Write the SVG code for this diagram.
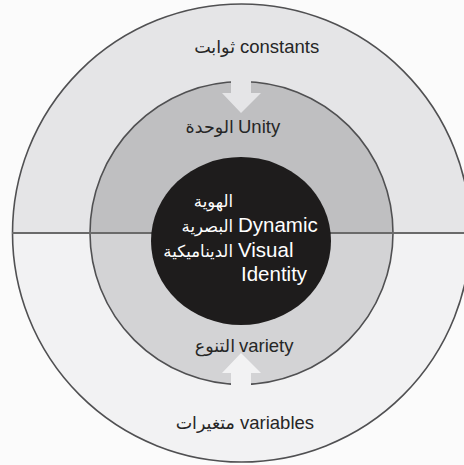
<svg xmlns="http://www.w3.org/2000/svg" width="464" height="465" viewBox="0 0 464 465">
<style>
.ring{stroke:#505052;stroke-width:1.6;fill:none}
.lbl{font-family:"Liberation Sans","DejaVu Sans",sans-serif;font-size:18.5px;fill:#262626}
.ctr{font-family:"Liberation Sans","DejaVu Sans",sans-serif;font-size:20.5px;fill:#ffffff}
.ar{font-family:"DejaVu Sans","Liberation Sans",sans-serif;font-size:17.5px}
.arc{font-family:"DejaVu Sans","Liberation Sans",sans-serif;font-size:16.5px}
</style>
<rect width="464" height="465" fill="#fbfbfb"/>
<g id="outer">
<path d="M12.5 233 A229 229 0 0 1 470.5 233 Z" fill="#e5e5e7"/>
<path d="M12.5 233 A229 229 0 0 0 470.5 233 Z" fill="#f2f2f3"/>
<circle class="ring" cx="241.5" cy="233" r="229"/>
<text class="lbl ar" x="235" y="53" text-anchor="end">ثوابت</text>
<text class="lbl" x="240" y="53">constants</text>
<text class="lbl ar" x="235" y="429" text-anchor="end">متغيرات</text>
<text class="lbl" x="240" y="429">variables</text>
</g>
<g id="middle">
<path d="M90 233 A151.5 151.5 0 0 1 393 233 Z" fill="#bfbfc1"/>
<path d="M90 233 A151.5 151.5 0 0 0 393 233 Z" fill="#d3d3d5"/>
<circle class="ring" cx="241.5" cy="233" r="151.5"/>
</g>
<g id="connectors">
<line x1="12" y1="233" x2="464" y2="233" stroke="#6a6a6a" stroke-width="2"/>
<polygon points="231,78 251,78 251,93 261,93 241,113 222,93 231,93" fill="#e5e5e7"/>
<polygon points="231,389 251,389 251,373 261,373 241,353 222,373 231,373" fill="#f2f2f3"/>
</g>
<g id="unity">
<text class="lbl ar" x="234" y="133" text-anchor="end">الوحدة</text>
<text class="lbl" x="238" y="133">Unity</text>
</g>
<g id="variety">
<text class="lbl ar" x="235" y="352" text-anchor="end">التنوع</text>
<text class="lbl" x="239" y="352">variety</text>
</g>
<g id="core">
<ellipse cx="241" cy="241" rx="90" ry="84" fill="#1e1c1c"/>
<text class="ctr arc" x="233" y="207" text-anchor="end">الهوية</text>
<text class="ctr arc" x="233" y="232" text-anchor="end">البصرية</text>
<text class="ctr arc" x="233" y="257" text-anchor="end">الديناميكية</text>
<text class="ctr" x="238" y="232">Dynamic</text>
<text class="ctr" x="238" y="257">Visual</text>
<text class="ctr" x="241" y="281">Identity</text>
</g>
</svg>
